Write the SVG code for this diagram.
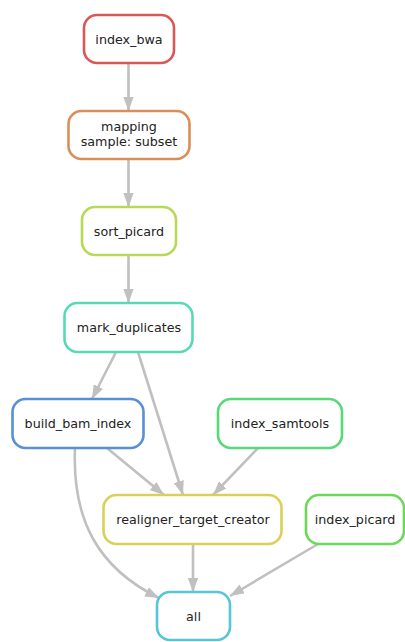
<svg xmlns="http://www.w3.org/2000/svg" width="405" height="642" viewBox="0 0 405 642">
<defs>
<style>
.n rect{fill:#fff;stroke-width:2.6}
.n text{font-family:"DejaVu Sans",sans-serif;font-size:12.7px;fill:#222;text-anchor:middle}
.e path{fill:none;stroke:#c0c0c0;stroke-width:2.6}
</style>
<marker id="ah" viewBox="0 0 10 10" refX="10" refY="5" markerWidth="5.4" markerHeight="4" markerUnits="strokeWidth" orient="auto" preserveAspectRatio="none">
<path d="M0,0 L10,5 L0,10 z" fill="#c0c0c0"/>
</marker>
</defs>
<rect width="405" height="642" fill="#fff"/>
<g class="e">
<path d="M128.5,63 L128.5,111" marker-end="url(#ah)"/>
<path d="M128.5,159 L128.5,207" marker-end="url(#ah)"/>
<path d="M128.5,255 L128.5,303" marker-end="url(#ah)"/>
<path d="M116,352 L92,399" marker-end="url(#ah)"/>
<path d="M138,352 L183,495" marker-end="url(#ah)"/>
<path d="M107,448 L164,495" marker-end="url(#ah)"/>
<path d="M258,448 L213,495" marker-end="url(#ah)"/>
<path d="M75,448 C72,520 98,568 159,598" marker-end="url(#ah)"/>
<path d="M193,544 L193,592" marker-end="url(#ah)"/>
<path d="M318,544 L230,596" marker-end="url(#ah)"/>
</g>
<g id="index_bwa" class="n"><rect x="84" y="15" width="90" height="48" rx="13" stroke="#d95757"/><text x="129" y="44">index_bwa</text></g>
<g id="mapping" class="n"><rect x="68.5" y="111" width="121" height="48" rx="13" stroke="#d98f57"/><text x="129" y="131">mapping</text><text x="129" y="146">sample: subset</text></g>
<g id="sort_picard" class="n"><rect x="82" y="207" width="94" height="48" rx="13" stroke="#b6d957"/><text x="129" y="236">sort_picard</text></g>
<g id="mark_duplicates" class="n"><rect x="64.5" y="303" width="128" height="49" rx="13" stroke="#57d9b6"/><text x="129" y="332">mark_duplicates</text></g>
<g id="build_bam_index" class="n"><rect x="12.5" y="399" width="131" height="49" rx="13" stroke="#578fd9"/><text x="78" y="428">build_bam_index</text></g>
<g id="index_samtools" class="n"><rect x="218" y="399" width="124" height="49" rx="13" stroke="#57d97a"/><text x="280" y="428">index_samtools</text></g>
<g id="realigner_target_creator" class="n"><rect x="103.5" y="495" width="178" height="49" rx="13" stroke="#d9d157"/><text x="193" y="524">realigner_target_creator</text></g>
<g id="index_picard" class="n"><rect x="306" y="495" width="98" height="49" rx="13" stroke="#6ad957"/><text x="355" y="524">index_picard</text></g>
<g id="all" class="n"><rect x="157" y="592" width="73" height="48" rx="13" stroke="#57c5d9"/><text x="193.5" y="621">all</text></g>
</svg>
